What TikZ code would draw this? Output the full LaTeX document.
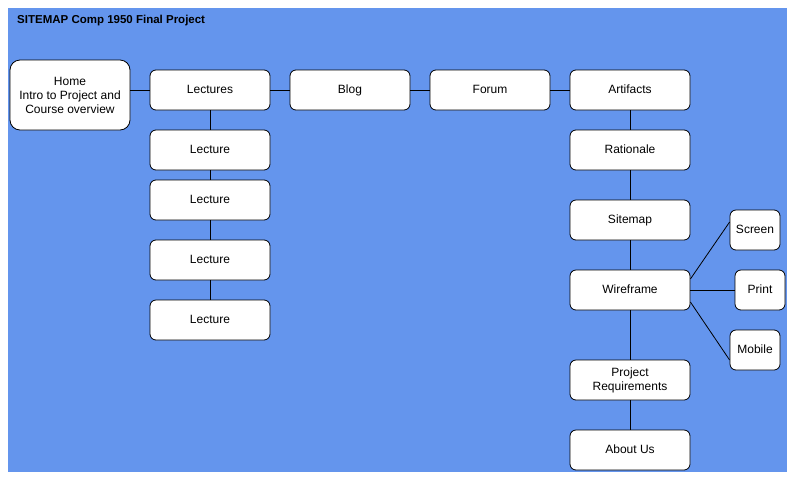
\documentclass[tikz,border=0pt]{standalone}
\usepackage{fontspec}
\setmainfont{Liberation Sans}
\usetikzlibrary{calc}
\definecolor{bgblue}{HTML}{6495ED}
\begin{document}
\begin{tikzpicture}[x=1pt,y=-1pt,
  pagebox/.style={draw=black,fill=white,line width=0.8pt,rounded corners=6pt,
    minimum width=120pt,minimum height=40pt,inner sep=1pt,align=center,
    text height=9pt,text depth=2pt,
    font=\fontsize{12}{14}\selectfont},
  smallbox/.style={pagebox,minimum width=50pt},
  link/.style={draw=black,line width=0.8pt}]
\useasboundingbox (0,0) rectangle (787,480);
\fill[white] (0,0) rectangle (787,480);
\fill[bgblue] (8,8) rectangle (787,472);
\node[anchor=base west,inner sep=0pt,font=\fontsize{11.5}{14}\selectfont\bfseries] (title) at (17,23) {SITEMAP Comp 1950 Final Project};
% nodes
\node[pagebox,minimum height=70pt,rounded corners=10pt,text height=,text depth=] (home) at (70,95) {Home\\Intro to Project and\\Course overview};
\node[pagebox] (lectures) at (210,90) {Lectures};
\node[pagebox] (blog) at (350,90) {Blog};
\node[pagebox] (forum) at (490,90) {Forum};
\node[pagebox] (artifacts) at (630,90) {Artifacts};
\node[pagebox] (lec1) at (210,150) {Lecture};
\node[pagebox] (lec2) at (210,200) {Lecture};
\node[pagebox] (lec3) at (210,260) {Lecture};
\node[pagebox] (lec4) at (210,320) {Lecture};
\node[pagebox] (rationale) at (630,150) {Rationale};
\node[pagebox] (sitemap) at (630,220) {Sitemap};
\node[pagebox] (wire) at (630,290) {Wireframe};
\node[pagebox,text height=,text depth=] (req) at (630,380) {Project\\Requirements};
\node[pagebox] (about) at (630,450) {About Us};
\node[smallbox] (screen) at (755,230) {Screen};
\node[smallbox] (print) at (760,290) {Print};
\node[smallbox] (mobile) at (755,350) {Mobile};
% connectors
\draw[link] (home.east |- lectures.west) -- (lectures.west);
\draw[link] (lectures) -- (blog);
\draw[link] (blog) -- (forum);
\draw[link] (forum) -- (artifacts);
\draw[link] (lectures) -- (lec1);
\draw[link] (lec1) -- (lec2);
\draw[link] (lec2) -- (lec3);
\draw[link] (lec3) -- (lec4);
\draw[link] (artifacts) -- (rationale);
\draw[link] (rationale) -- (sitemap);
\draw[link] (sitemap) -- (wire);
\draw[link] (wire) -- (req);
\draw[link] (req) -- (about);
\draw[link] ([yshift=11pt]wire.east) -- ([yshift=8pt]screen.west);
\draw[link] (wire) -- (print);
\draw[link] ([yshift=-12pt]wire.east) -- ([yshift=-10pt]mobile.west);
\end{tikzpicture}
\end{document}
